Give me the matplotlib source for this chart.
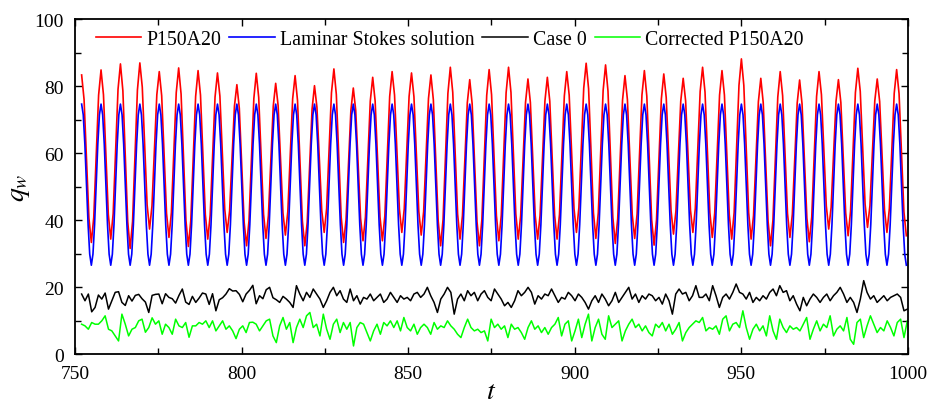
import numpy as np
import matplotlib.pyplot as plt
from matplotlib.ticker import MultipleLocator

plt.rcParams['font.family'] = 'serif'
plt.rcParams['font.serif'] = ['Liberation Serif', 'DejaVu Serif']
plt.rcParams['mathtext.fontset'] = 'stix'

t_start, t_end = 752.0, 999.5

# Laminar Stokes solution, read at 12 points per cycle (one row = one cycle)
stokes_q = [
    74.6, 71.4, 62.6, 50.6, 38.6, 29.8, 26.5, 29.8, 38.6, 50.6, 62.6, 71.4,
    74.6, 71.4, 62.6, 50.6, 38.6, 29.8, 26.5, 29.8, 38.6, 50.6, 62.6, 71.4,
    74.6, 71.4, 62.6, 50.6, 38.6, 29.8, 26.5, 29.8, 38.6, 50.6, 62.6, 71.4,
    74.6, 71.4, 62.6, 50.6, 38.6, 29.8, 26.5, 29.8, 38.6, 50.6, 62.6, 71.4,
    74.6, 71.4, 62.6, 50.6, 38.6, 29.8, 26.5, 29.8, 38.6, 50.6, 62.6, 71.4,
    74.6, 71.4, 62.6, 50.6, 38.6, 29.8, 26.5, 29.8, 38.6, 50.6, 62.6, 71.4,
    74.6, 71.4, 62.6, 50.6, 38.6, 29.8, 26.5, 29.8, 38.6, 50.6, 62.6, 71.4,
    74.6, 71.4, 62.6, 50.6, 38.6, 29.8, 26.5, 29.8, 38.6, 50.6, 62.6, 71.4,
    74.6, 71.4, 62.6, 50.6, 38.6, 29.8, 26.5, 29.8, 38.6, 50.6, 62.6, 71.4,
    74.6, 71.4, 62.6, 50.6, 38.6, 29.8, 26.5, 29.8, 38.6, 50.6, 62.6, 71.4,
    74.6, 71.4, 62.6, 50.6, 38.6, 29.8, 26.5, 29.8, 38.6, 50.6, 62.6, 71.4,
    74.6, 71.4, 62.6, 50.6, 38.6, 29.8, 26.5, 29.8, 38.6, 50.6, 62.6, 71.4,
    74.6, 71.4, 62.6, 50.6, 38.6, 29.8, 26.5, 29.8, 38.6, 50.6, 62.6, 71.4,
    74.6, 71.4, 62.6, 50.6, 38.6, 29.8, 26.5, 29.8, 38.6, 50.6, 62.6, 71.4,
    74.6, 71.4, 62.6, 50.6, 38.6, 29.8, 26.5, 29.8, 38.6, 50.6, 62.6, 71.4,
    74.6, 71.4, 62.6, 50.6, 38.6, 29.8, 26.5, 29.8, 38.6, 50.6, 62.6, 71.4,
    74.6, 71.4, 62.6, 50.6, 38.6, 29.8, 26.5, 29.8, 38.6, 50.6, 62.6, 71.4,
    74.6, 71.4, 62.6, 50.6, 38.6, 29.8, 26.5, 29.8, 38.6, 50.6, 62.6, 71.4,
    74.6, 71.4, 62.6, 50.6, 38.6, 29.8, 26.5, 29.8, 38.6, 50.6, 62.6, 71.4,
    74.6, 71.4, 62.6, 50.6, 38.6, 29.8, 26.5, 29.8, 38.6, 50.6, 62.6, 71.4,
    74.6, 71.4, 62.6, 50.6, 38.6, 29.8, 26.5, 29.8, 38.6, 50.6, 62.6, 71.4,
    74.6, 71.4, 62.6, 50.6, 38.6, 29.8, 26.5, 29.8, 38.6, 50.6, 62.6, 71.4,
    74.6, 71.4, 62.6, 50.6, 38.6, 29.8, 26.5, 29.8, 38.6, 50.6, 62.6, 71.4,
    74.6, 71.4, 62.6, 50.6, 38.6, 29.8, 26.5, 29.8, 38.6, 50.6, 62.6, 71.4,
    74.6, 71.4, 62.6, 50.6, 38.6, 29.8, 26.5, 29.8, 38.6, 50.6, 62.6, 71.4,
    74.6, 71.4, 62.6, 50.6, 38.6, 29.8, 26.5, 29.8, 38.6, 50.6, 62.6, 71.4,
    74.6, 71.4, 62.6, 50.6, 38.6, 29.8, 26.5, 29.8, 38.6, 50.6, 62.6, 71.4,
    74.6, 71.4, 62.6, 50.6, 38.6, 29.8, 26.5, 29.8, 38.6, 50.6, 62.6, 71.4,
    74.6, 71.4, 62.6, 50.6, 38.6, 29.8, 26.5, 29.8, 38.6, 50.6, 62.6, 71.4,
    74.6, 71.4, 62.6, 50.6, 38.6, 29.8, 26.5, 29.8, 38.6, 50.6, 62.6, 71.4,
    74.6, 71.4, 62.6, 50.6, 38.6, 29.8, 26.5, 29.8, 38.6, 50.6, 62.6, 71.4,
    74.6, 71.4, 62.6, 50.6, 38.6, 29.8, 26.5, 29.8, 38.6, 50.6, 62.6, 71.4,
    74.6, 71.4, 62.6, 50.6, 38.6, 29.8, 26.5, 29.8, 38.6, 50.6, 62.6, 71.4,
    74.6, 71.4, 62.6, 50.6, 38.6, 29.8, 26.5, 29.8, 38.6, 50.6, 62.6, 71.4,
    74.6, 71.4, 62.6, 50.6, 38.6, 29.8, 26.5, 29.8, 38.6, 50.6, 62.6, 71.4,
    74.6, 71.4, 62.6, 50.6, 38.6, 29.8, 26.5, 29.8, 38.6, 50.6, 62.6, 71.4,
    74.6, 71.4, 62.6, 50.6, 38.6, 29.8, 26.5, 29.8, 38.6, 50.6, 62.6, 71.4,
    74.6, 71.4, 62.6, 50.6, 38.6, 29.8, 26.5, 29.8, 38.6, 50.6, 62.6, 71.4,
    74.6, 71.4, 62.6, 50.6, 38.6, 29.8, 26.5, 29.8, 38.6, 50.6, 62.6, 71.4,
    74.6, 71.4, 62.6, 50.6, 38.6, 29.8, 26.5, 29.8, 38.6, 50.6, 62.6, 71.4,
    74.6, 71.4, 62.6, 50.6, 38.6, 29.8, 26.5, 29.8, 38.6, 50.6, 62.6, 71.4,
    74.6, 71.4, 62.6, 50.6, 38.6, 29.8, 26.5, 29.8, 38.6, 50.6, 62.6, 71.4,
    74.6, 71.4, 62.6, 50.6, 38.6, 29.8, 26.5,
]

# P150A20, read at 8 points per cycle (peak, fall, trough, rise)
p150_q = [
    83.3, 76.0, 58.3, 40.6, 33.3, 40.8, 59.0, 77.3,
    84.8, 77.4, 59.6, 41.7, 34.3, 41.9, 60.5, 79.0,
    86.6, 78.6, 59.1, 39.5, 31.5, 39.6, 59.2, 78.8,
    86.9, 79.7, 62.1, 44.5, 37.3, 44.2, 60.8, 77.4,
    84.3, 77.1, 59.6, 42.0, 34.8, 42.2, 60.1, 78.0,
    85.4, 77.6, 58.8, 39.9, 32.1, 39.8, 58.4, 76.9,
    84.6, 77.3, 59.5, 41.6, 34.3, 41.5, 59.1, 76.7,
    83.9, 77.0, 60.1, 43.2, 36.3, 42.7, 58.4, 74.0,
    80.4, 73.4, 56.4, 39.3, 32.3, 39.8, 58.1, 76.3,
    83.8, 76.6, 59.2, 41.7, 34.5, 41.3, 57.7, 74.0,
    80.8, 74.2, 58.2, 42.1, 35.5, 42.5, 59.3, 76.2,
    83.1, 75.7, 57.7, 39.7, 32.3, 39.3, 56.2, 73.1,
    80.1, 73.7, 58.2, 42.7, 36.3, 43.4, 60.7, 78.0,
    85.1, 77.5, 59.2, 40.9, 33.3, 40.0, 56.4, 72.7,
    79.4, 72.7, 56.6, 40.5, 33.8, 40.9, 58.2, 75.5,
    82.6, 75.5, 58.2, 40.9, 33.8, 41.2, 59.1, 76.9,
    84.3, 77.3, 60.3, 43.3, 36.3, 43.3, 60.1, 76.9,
    83.9, 76.8, 59.7, 42.6, 35.5, 42.5, 59.4, 76.3,
    83.3, 75.9, 57.8, 39.7, 32.3, 40.1, 59.0, 77.8,
    85.6, 78.1, 60.0, 41.8, 34.3, 41.3, 58.1, 75.0,
    81.9, 74.7, 57.1, 39.5, 32.3, 40.0, 58.6, 77.2,
    84.9, 77.4, 59.4, 41.3, 33.8, 41.4, 59.7, 78.0,
    85.6, 78.1, 60.0, 41.8, 34.3, 41.3, 58.2, 75.1,
    82.1, 75.1, 58.2, 41.3, 34.3, 41.4, 58.5, 75.5,
    82.6, 75.5, 58.5, 41.4, 34.3, 41.6, 59.3, 77.0,
    84.3, 77.3, 60.3, 43.3, 36.3, 43.7, 61.6, 79.4,
    86.8, 79.2, 60.7, 42.1, 34.5, 42.1, 60.4, 78.7,
    86.3, 78.5, 59.7, 40.8, 33.0, 40.3, 58.1, 75.8,
    83.1, 76.0, 58.8, 41.6, 34.5, 41.8, 59.6, 77.3,
    84.6, 77.0, 58.6, 40.1, 32.5, 40.0, 58.1, 76.1,
    83.6, 76.6, 59.7, 42.8, 35.8, 42.6, 59.1, 75.5,
    82.3, 75.6, 59.3, 43.0, 36.3, 43.5, 61.0, 78.4,
    85.6, 78.2, 60.2, 42.2, 34.8, 42.1, 59.7, 77.3,
    84.6, 77.3, 59.5, 41.6, 34.3, 42.2, 61.2, 80.2,
    88.1, 80.2, 61.2, 42.2, 34.3, 41.3, 58.3, 75.3,
    82.3, 75.0, 57.3, 39.6, 32.3, 39.9, 58.3, 76.7,
    84.3, 77.1, 59.6, 42.0, 34.8, 41.7, 58.3, 74.9,
    81.8, 74.7, 57.7, 40.6, 33.5, 40.9, 58.9, 76.9,
    84.3, 77.4, 60.8, 44.2, 37.3, 43.8, 59.6, 75.4,
    81.9, 75.1, 58.6, 42.1, 35.3, 42.6, 60.3, 78.0,
    85.3, 78.4, 61.6, 44.7, 37.8, 44.3, 60.0, 75.6,
    82.1, 75.4, 59.2, 43.0, 36.3, 43.4, 60.6, 77.8,
    84.9, 77.7, 60.1, 42.5, 35.3,
]

# Case 0, about one reading per time unit
case0_q = [
    17.9, 15.9, 17.9, 12.6, 13.9, 17.6, 16.4, 18.2, 13.4, 15.9,
    18.4, 18.6, 15.4, 14.5, 17.4, 15.8, 17.5, 17.8, 16.5, 15.5,
    12.4, 17.5, 17.8, 17.9, 15.0, 18.0, 16.9, 16.5, 15.2, 17.5,
    19.4, 15.5, 14.8, 17.2, 15.4, 16.7, 18.2, 17.9, 14.8, 18.0,
    12.9, 16.2, 16.8, 17.9, 19.5, 18.8, 18.9, 17.8, 15.6, 17.9,
    19.0, 20.5, 15.0, 17.4, 16.5, 19.2, 19.9, 16.8, 16.2, 15.4, 17.2,
    16.4, 15.4, 13.9, 20.4, 17.9, 15.9, 18.4, 16.9, 19.4, 17.9,
    16.4, 13.9, 15.9, 18.4, 19.9, 17.4, 18.9, 16.4, 15.4, 19.4,
    15.9, 17.4, 14.9, 16.9, 16.4, 17.9, 15.9, 16.9, 17.9, 15.4,
    16.4, 18.4, 16.9, 15.4, 17.4, 16.4, 16.9, 15.9, 17.9, 18.4,
    16.9, 17.9, 19.9, 17.4, 15.4, 12.4, 16.4, 17.9, 19.9, 18.4,
    11.9, 16.4, 17.9, 15.9, 18.9, 17.4, 18.4, 15.9, 17.9, 18.9, 16.9, 15.9,
    19.4, 17.9, 16.4, 14.4, 15.4, 13.9, 15.9, 18.9, 17.4, 18.4,
    19.9, 18.4, 14.9, 17.4, 16.4, 17.9, 17.4, 19.4, 17.4, 15.4,
    16.9, 16.4, 18.4, 17.4, 15.9, 17.9, 16.9, 15.4, 13.4, 15.9,
    17.4, 15.4, 17.9, 16.4, 14.4, 15.9, 18.4, 15.4, 16.9, 18.4,
    19.9, 16.4, 17.9, 15.4, 17.4, 16.4, 17.9, 17.4, 15.9, 16.9,
    14.9, 17.9, 15.9, 11.9, 17.9, 19.4, 17.9, 18.4, 15.9, 17.4, 20.4, 16.9,
    16.9, 17.9, 15.9, 20.4, 17.4, 13.9, 16.9, 17.9, 16.4, 18.4,
    20.9, 18.4, 17.9, 16.4, 18.4, 15.4, 16.9, 15.9, 17.4, 16.4,
    18.4, 19.4, 17.4, 20.4, 18.4, 18.9, 15.9, 17.4, 14.9, 12.9,
    16.9, 14.4, 16.4, 17.9, 16.9, 15.4, 16.9, 17.9, 15.9, 17.4,
    18.4, 19.9, 17.9, 15.4, 16.9, 15.4, 12.4, 16.4, 21.9, 18.4,
    16.4, 17.4, 15.4, 16.4, 17.4, 15.9, 16.9, 17.4, 17.9, 16.9, 12.9, 13.4,
]

# Corrected P150A20
corrected_q = [
    8.9, 8.4, 7.4, 9.4, 8.9, 8.9, 9.9, 11.4, 7.4, 6.9,
    5.4, 3.9, 11.9, 8.9, 5.4, 7.4, 7.9, 9.9, 10.4, 6.5,
    7.9, 10.8, 8.9, 9.9, 5.9, 8.9, 7.9, 5.9, 10.4, 8.4,
    7.9, 9.4, 5.0, 8.4, 8.4, 9.4, 8.9, 9.9, 7.9, 9.9,
    6.9, 8.4, 9.9, 7.4, 8.4, 6.9, 4.6, 7.4, 8.4, 6.4,
    9.4, 9.5, 8.9, 6.9, 8.4, 9.9, 10.4, 5.4, 3.4, 8.4, 10.9,
    7.4, 9.4, 3.4, 7.9, 10.4, 7.9, 11.4, 12.4, 7.9, 8.9,
    5.4, 11.9, 7.4, 4.4, 8.9, 10.4, 6.4, 9.4, 7.4, 9.4,
    2.4, 7.9, 9.4, 8.9, 6.4, 3.9, 6.9, 8.9, 5.9, 9.4,
    8.4, 9.9, 7.9, 9.9, 6.9, 10.9, 7.9, 6.9, 8.9, 5.9,
    7.9, 8.9, 7.9, 5.9, 9.4, 7.4, 8.4, 7.9, 9.9, 8.4,
    7.4, 5.9, 4.9, 7.9, 10.4, 7.9, 6.9, 7.4, 6.4, 6.9, 3.9, 10.4,
    7.9, 8.9, 7.4, 8.4, 4.9, 8.9, 7.4, 7.9, 6.4, 4.4,
    7.9, 9.9, 7.4, 8.4, 6.4, 7.9, 5.9, 7.9, 8.9, 10.9,
    5.4, 8.9, 9.9, 3.9, 6.9, 10.4, 4.9, 8.9, 11.9, 3.9,
    7.9, 10.4, 5.9, 4.4, 11.4, 7.9, 8.9, 9.9, 3.9, 6.9,
    8.9, 10.4, 7.9, 8.9, 6.9, 8.4, 6.4, 5.4, 8.9, 7.9,
    9.4, 6.9, 8.9, 5.9, 7.4, 9.4, 3.9, 6.4, 7.9, 8.9, 9.9, 9.4,
    10.9, 6.9, 7.9, 7.4, 8.4, 5.9, 10.4, 11.4, 6.9, 8.9,
    9.4, 7.9, 12.9, 7.9, 4.4, 7.4, 8.9, 6.9, 8.4, 5.4,
    11.4, 6.9, 4.4, 10.4, 7.9, 6.4, 8.4, 7.4, 7.9, 6.9,
    8.9, 10.9, 4.4, 7.4, 9.9, 6.9, 8.9, 7.9, 11.4, 5.4,
    7.4, 8.4, 6.9, 10.9, 4.4, 2.9, 9.4, 10.4, 4.9, 8.4,
    11.4, 8.9, 6.4, 7.9, 6.9, 9.9, 7.9, 5.4, 9.4, 10.4, 4.9, 9.9,
]

t_stokes = np.linspace(t_start, t_end, len(stokes_q))
t_p150 = np.linspace(t_start, t_end, len(p150_q))
t_case0 = np.linspace(t_start, 999.8, len(case0_q))
t_corr = np.linspace(t_start, 999.8, len(corrected_q))

fig = plt.figure(figsize=(9.29, 4.06), dpi=100)
ax = fig.add_axes([0.0807, 0.1256, 0.8967, 0.8251])

ax.plot(t_p150, p150_q, color='#ff0000', lw=1.2, label='P150A20')
ax.plot(t_stokes, stokes_q, color='#0000ff', lw=1.2, label='Laminar Stokes solution')
ax.plot(t_case0, case0_q, color='black', lw=1.1, label='Case 0')
ax.plot(t_corr, corrected_q, color='#00ff00', lw=1.1, label='Corrected P150A20')

ax.set_xlim(750, 1000)
ax.set_ylim(0, 100)
ax.xaxis.set_major_locator(MultipleLocator(50))
ax.xaxis.set_minor_locator(MultipleLocator(25))
ax.yaxis.set_major_locator(MultipleLocator(20))
ax.yaxis.set_minor_locator(MultipleLocator(10))
ax.tick_params(which='both', direction='in', top=True, right=True,
               labelsize=14, width=1.0)
ax.tick_params(which='major', length=5)
ax.tick_params(which='minor', length=4)
ax.tick_params(axis='y', pad=8)
ax.tick_params(axis='x', pad=8)
for sp in ax.spines.values():
    sp.set_linewidth(1.3)

ax.set_xlabel('$t$', fontsize=20, labelpad=-2)
ax.set_ylabel('$q_w$', fontsize=20, labelpad=2)

ax.legend(loc='upper center', ncol=4, frameon=False, fontsize=14.3,
          handlelength=2.3, handletextpad=0.25, columnspacing=0.4,
          borderaxespad=0.15, bbox_to_anchor=(0.45, 1.0))

fig.savefig('out.png', dpi=100)
